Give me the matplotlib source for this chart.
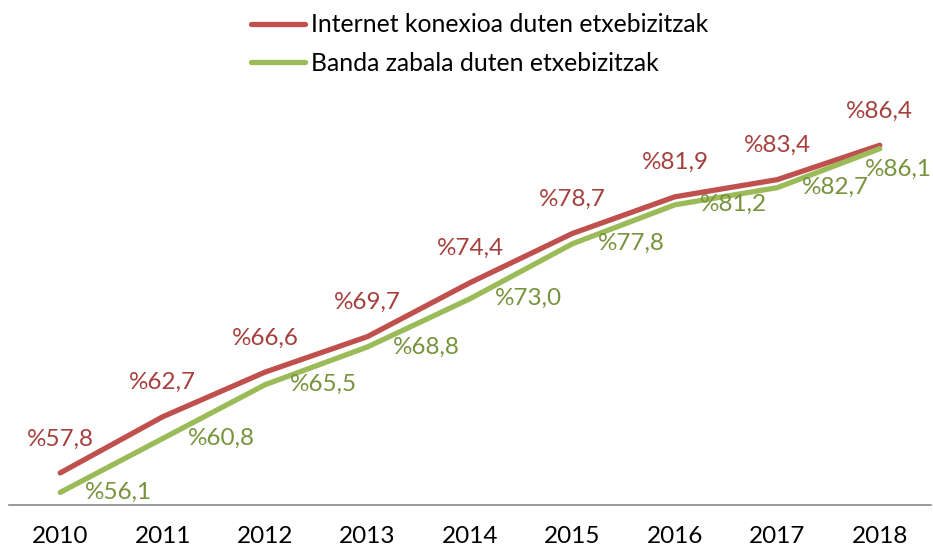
import matplotlib
matplotlib.use("Agg")
import matplotlib.pyplot as plt

years = ["2010", "2011", "2012", "2013", "2014", "2015", "2016", "2017", "2018"]
internet = [57.8, 62.7, 66.6, 69.7, 74.4, 78.7, 81.9, 83.4, 86.4]
banda = [56.1, 60.8, 65.5, 68.8, 73.0, 77.8, 81.2, 82.7, 86.1]
series_names = ["Internet konexioa duten etxebizitzak", "Banda zabala duten etxebizitzak"]

plt.rcParams['font.family'] = ['Lato', 'DejaVu Sans']

RED = "#C0504D"
GREEN = "#9BBB59"
RED_TXT = "#A5403D"
GREEN_TXT = "#77933C"

fig = plt.figure(figsize=(9.33, 5.49), dpi=100)
ax = fig.add_axes([9/933, (549-505)/549, (931-9)/933, (505-104)/549])

x = list(range(len(years)))
l1, = ax.plot(x, internet, color=RED, lw=3.8, solid_capstyle='round', label=series_names[0])
l2, = ax.plot(x, banda, color=GREEN, lw=3.8, solid_capstyle='round', label=series_names[1])

def fmt(v):
    return "%" + f"{v:.1f}".replace(".", ",")

FS = 17.5
for xi, v in zip(x, internet):
    ax.annotate(fmt(v), (xi, v), xytext=(0, 24.5), textcoords='offset points',
                ha='center', va='center', color=RED_TXT, fontsize=FS)
for i, (xi, v) in enumerate(zip(x, banda)):
    off = (18, 0) if i < len(x) - 1 else (-11, -15)
    ax.annotate(fmt(v), (xi, v), xytext=off, textcoords='offset points',
                ha='left', va='center', color=GREEN_TXT, fontsize=FS)

ax.set_xlim(-0.5, 8.5)
ax.set_ylim(55, 90)
ax.set_xticks(x)
ax.set_xticklabels(years, fontsize=FS)
ax.tick_params(axis='x', length=0, pad=15)
ax.set_yticks([])
for s in ['top', 'right', 'left']:
    ax.spines[s].set_visible(False)
ax.spines['bottom'].set_color('#898989')
ax.spines['bottom'].set_linewidth(1.2)

fig.legend(handles=[l1, l2], loc='upper center', bbox_to_anchor=(0.514, 1.016),
           frameon=False, fontsize=FS + 0.3, handlelength=2.2, handletextpad=0.25,
           labelspacing=0.62)

fig.savefig("out.png", dpi=100)
